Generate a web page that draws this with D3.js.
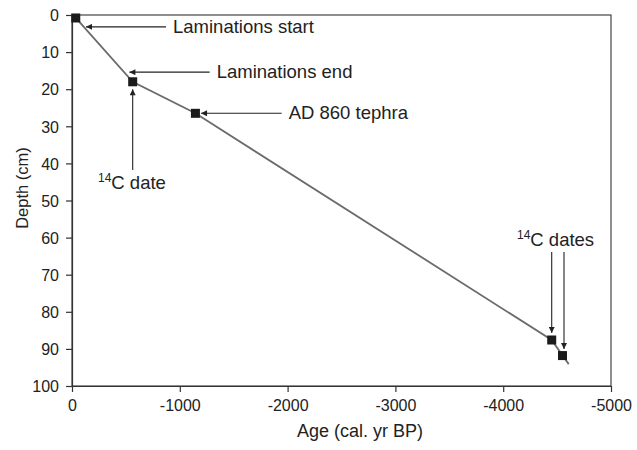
<!DOCTYPE html>
<html>
<head>
<meta charset="utf-8">
<script src="https://cdn.jsdelivr.net/npm/d3@7"></script>
<style>
  html, body { margin: 0; padding: 0; background: #fff; }
  svg { display: block; font-family: "Liberation Sans", Arial, sans-serif; }
</style>
</head>
<body>
<svg id="chart" width="637" height="450"></svg>
<script>
// ---- data ----
const markerAges   = [-35, -563, -1145, -4450, -4550];
const markerDepths = [0.8, 18.0, 26.5, 87.6, 91.8];
const lineAges     = [-35, -563, -1145, -4450, -4550, -4608];
const lineDepths   = [0.8, 18.0, 26.5, 87.6, 91.8, 94.1];
const xTicks = [0, -1000, -2000, -3000, -4000, -5000];
const yTicks = [0, 10, 20, 30, 40, 50, 60, 70, 80, 90, 100];
// horizontal annotations: label, tip age, tip depth, tail age
const hLabels    = ["Laminations start", "Laminations end", "AD 860 tephra"];
const hTipAges   = [-130, -532, -1197];
const hTipDepths = [3.2, 15.4, 26.5];
const hTailAges  = [-872, -1277, -1945];
// vertical annotations: x age, tip depth, tail depth
const vAges      = [-563, -4450, -4564];
const vTipDepths = [20.0, 85.7, 90.0];
const vTailDepths= [41.8, 63.9, 63.9];

const svg = d3.select("#chart");
const margin = {left: 72, right: 26, top: 15, bottom: 64};
const W = 637, H = 450;
const x = d3.scaleLinear().domain([0, -5000]).range([margin.left, W - margin.right]);
const y = d3.scaleLinear().domain([0, 100]).range([margin.top, H - margin.bottom]);

const ink = "#222";

svg.append("defs").append("marker")
  .attr("id", "ah").attr("viewBox", "0 0 10 10")
  .attr("refX", 10).attr("refY", 5)
  .attr("markerWidth", 7).attr("markerHeight", 6)
  .attr("markerUnits", "userSpaceOnUse")
  .attr("orient", "auto")
  .append("path").attr("d", "M0,0 L10,5 L0,10 Z").attr("fill", ink);

// frame
svg.append("rect")
  .attr("x", x(0)).attr("y", y(0))
  .attr("width", x(-5000) - x(0)).attr("height", y(100) - y(0))
  .attr("fill", "none").attr("stroke", "#444").attr("stroke-width", 1.2);

// axes
const gx = svg.append("g").attr("transform", `translate(0,${y(100)})`)
  .call(d3.axisBottom(x).tickValues(xTicks).tickSize(6).tickSizeOuter(0).tickFormat(d => String(d)));
const gy = svg.append("g").attr("transform", `translate(${x(0)},0)`)
  .call(d3.axisLeft(y).tickValues(yTicks).tickSize(6).tickSizeOuter(0).tickFormat(d => String(d)));
[gx, gy].forEach(g => {
  g.select(".domain").attr("stroke", "#333").attr("stroke-width", 1.2);
  g.selectAll(".tick line").attr("stroke", "#333").attr("stroke-width", 1.2);
  g.selectAll(".tick text").attr("fill", ink).attr("font-size", 16)
    .attr("font-family", "Liberation Sans, Arial, sans-serif");
});
gx.selectAll(".tick text").attr("dy", "1.0em");
gy.selectAll(".tick text").attr("x", -13).attr("dy", "0.36em");

// axis titles
svg.append("text").attr("x", 360).attr("y", 437).attr("text-anchor", "middle")
  .attr("font-size", 18).attr("fill", ink).text("Age (cal. yr BP)");
svg.append("text").attr("transform", `translate(28,${188}) rotate(-90)`)
  .attr("text-anchor", "middle").attr("font-size", 16.5).attr("fill", ink).text("Depth (cm)");

// age-depth line
const pts = lineAges.map((a, i) => [a, lineDepths[i]]);
svg.append("path").datum(pts)
  .attr("d", d3.line().x(d => x(d[0])).y(d => y(d[1])))
  .attr("fill", "none").attr("stroke", "#6b6b6b").attr("stroke-width", 1.8);

// markers
const s = 9;
svg.selectAll("rect.m").data(markerAges).enter().append("rect")
  .attr("class", "m")
  .attr("x", (d) => x(d) - s / 2)
  .attr("y", (d, i) => y(markerDepths[i]) - s / 2)
  .attr("width", s).attr("height", s).attr("fill", "#1b1b1b");

// horizontal annotations
hLabels.forEach((lab, i) => {
  const yy = y(hTipDepths[i]);
  svg.append("line")
    .attr("x1", x(hTailAges[i])).attr("y1", yy)
    .attr("x2", x(hTipAges[i])).attr("y2", yy)
    .attr("stroke", ink).attr("stroke-width", 1.1).attr("marker-end", "url(#ah)");
  svg.append("text").attr("x", x(hTailAges[i]) + 7).attr("y", yy + 5.8)
    .attr("font-size", 18.5).attr("fill", ink).text(lab);
});

// vertical annotations
vAges.forEach((a, i) => {
  svg.append("line")
    .attr("x1", x(a)).attr("y1", y(vTailDepths[i]))
    .attr("x2", x(a)).attr("y2", y(vTipDepths[i]))
    .attr("stroke", ink).attr("stroke-width", 1.1).attr("marker-end", "url(#ah)");
});

function c14(xp, yp, rest) {
  const t = svg.append("text").attr("x", xp).attr("y", yp).attr("font-size", 18.5).attr("fill", ink);
  t.append("tspan").attr("font-size", 12).attr("dy", -7).text("14");
  t.append("tspan").attr("dy", 7).text(rest);
}
c14(98, 189, "C date");
c14(517, 245.5, "C dates");
</script>
</body>
</html>
